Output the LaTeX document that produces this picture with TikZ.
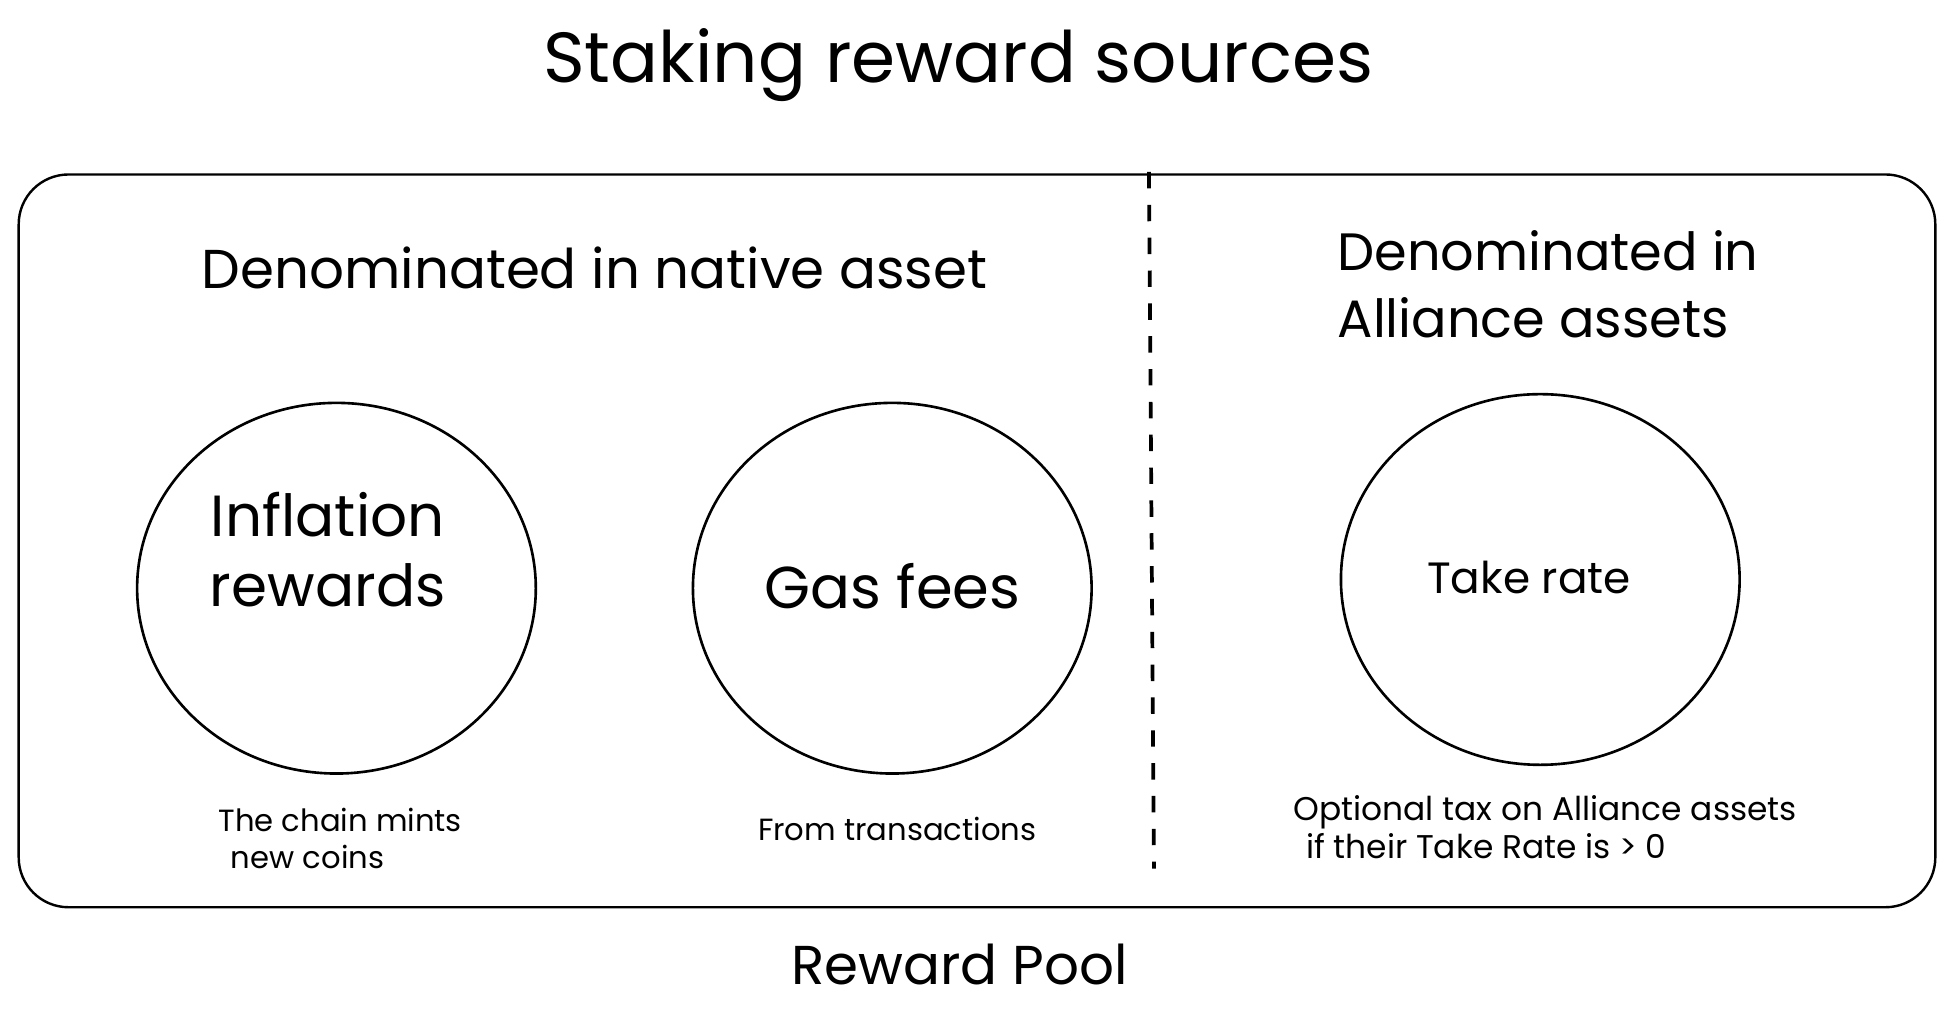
\documentclass[tikz,border=0pt]{standalone}
\usepackage{fontspec}
\setmainfont{Poppins}
\usetikzlibrary{positioning, shapes.geometric}

\begin{document}
\begin{tikzpicture}[
  x=0.02cm, y=-0.02cm,
  frame/.style = {draw=black, line width=1.1pt, rounded corners=0.8cm},
  bubble/.style = {ellipse, draw=black, line width=1.2pt,
                   minimum width=6.4cm, minimum height=5.95cm, inner sep=0pt},
  divider/.style = {draw=black, line width=1.7pt, dash pattern=on 7.5pt off 7.5pt},
  title/.style = {font=\fontsize{32.4}{38}\selectfont},
  heading/.style = {font=\fontsize{25}{31}\selectfont, align=left},
  big/.style = {font=\fontsize{25}{32}\selectfont, align=center},
  note/.style = {font=\fontsize{14}{17}\selectfont, align=left},
]
\useasboundingbox (0,0) rectangle (1568,823);

% Title
\node[title] (title) at (769,52) {Staking reward sources};

% Reward pool frame
\draw[frame] (15,140) rectangle (1553,728);
\coordinate (divtop) at (922,138);
\coordinate (divbot) at (926,697);
\draw[divider] (divtop) -- (divbot);

% Headings
\node[heading] (native) at (477,215) {Denominated in native asset};
\node[heading, font=\fontsize{24}{30.5}\selectfont, anchor=west, inner sep=0pt]
  (alliance) at (1073,228) {Denominated in\\Alliance assets};

% Sources
\node[bubble] (inflation) at (270,472)  {};
\node[bubble] (gas)       at (716,472)  {};
\node[bubble] (take)      at (1236,465) {};

\node[big, font=\fontsize{26.5}{32}\selectfont] (inflationtxt) at (263,441) {Inflation\\rewards};
\node[big, font=\fontsize{27}{32}\selectfont] (gastxt) at (716,470) {Gas fees};
\node[big, font=\fontsize{20}{24}\selectfont] (taketxt) at (1227,463) {Take rate};

% Notes
\node[note] (mints) at (273,673) {The chain mints\\\hspace{0.2cm}new coins};
\node[note] (fromtx) at (720,665) {From transactions};
\node[note, font=\fontsize{15}{17.5}\selectfont] (tax) at (1240,664)
  {Optional tax on Alliance assets\\\hspace{0.2cm}if their Take Rate is > 0};

% Pool label
\node[big] (pool) at (770,774) {Reward Pool};

\end{tikzpicture}
\end{document}
